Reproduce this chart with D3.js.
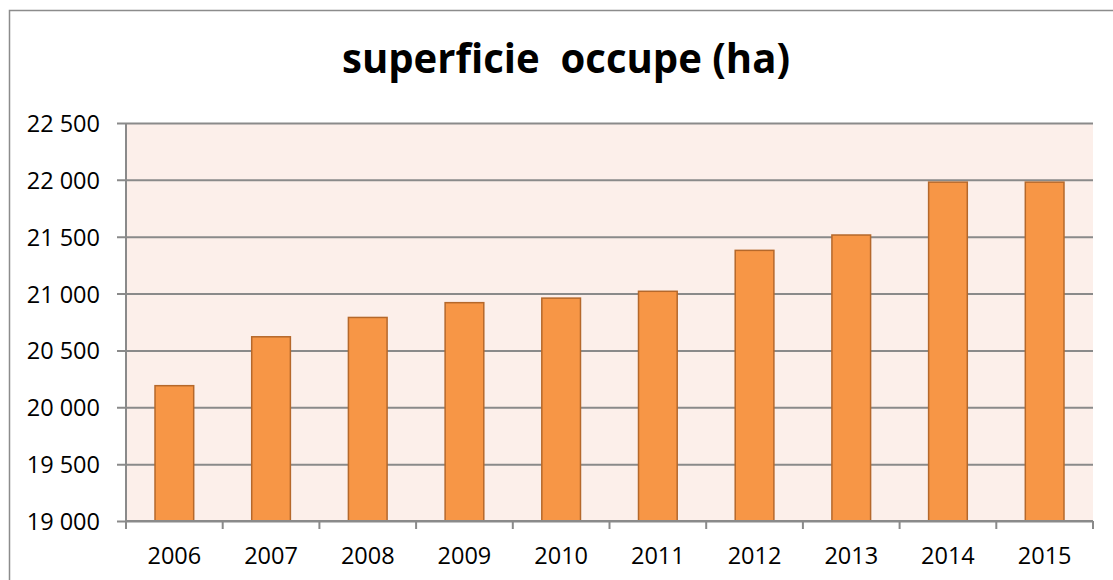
<!DOCTYPE html>
<html>
<head>
<meta charset="utf-8">
<script src="https://cdn.jsdelivr.net/npm/d3@7"></script>
<style>
  html, body { margin: 0; padding: 0; background: #fff; overflow: hidden; }
  svg { display: block; font-family: "Open Sans", "Liberation Sans", sans-serif; }
</style>
</head>
<body>
<svg id="chart"></svg>
<script>
/* ===============================
   Data
================================ */

const years = ["2006", "2007", "2008", "2009", "2010", "2011", "2012", "2013", "2014", "2015"];
const surface = [20190, 20620, 20790, 20920, 20960, 21020, 21380, 21515, 21980, 21980];
const yTicks = [19000, 19500, 20000, 20500, 21000, 21500, 22000, 22500];
const title = "superficie\u00a0 occupe (ha)";

/* ===============================
   Setup
================================ */

const width = 1113;
const height = 580;
const plot = { left: 126, right: 1093, top: 123, bottom: 521 };

const svg = d3.select("#chart")
  .attr("width", width)
  .attr("height", height);

// outer chart frame (cropped at right & bottom)
svg.append("rect")
  .attr("x", 9.5).attr("y", 10.5)
  .attr("width", width + 10).attr("height", height + 10)
  .attr("fill", "#fff")
  .attr("stroke", "#8c8c8c")
  .attr("stroke-width", 1.5);

const x = d3.scaleBand()
  .domain(years)
  .range([plot.left, plot.right])
  .paddingInner(0.6)
  .paddingOuter(0.3);

const y = d3.scaleLinear()
  .domain([19000, 22500])
  .range([plot.bottom, plot.top]);

const fmt = v => d3.format(",")(v).replace(",", " ");

/* ===============================
   Plot area
================================ */

svg.append("rect")
  .attr("x", plot.left).attr("y", plot.top)
  .attr("width", plot.right - plot.left)
  .attr("height", plot.bottom - plot.top)
  .attr("fill", "#fcefea");

// gridlines + y axis
const yAxis = svg.append("g")
  .attr("transform", `translate(${plot.left},0)`)
  .call(d3.axisLeft(y)
    .tickValues(yTicks)
    .tickFormat(fmt)
    .tickSize(-(plot.right - plot.left))
    .tickSizeOuter(0)
    .tickPadding(26));

yAxis.select(".domain").remove();
yAxis.selectAll(".tick line")
  .attr("x1", -9)
  .attr("stroke", "#8a8a8a")
  .attr("stroke-width", 2);
yAxis.selectAll(".tick text")
  .attr("fill", "#000")
  .attr("font-family", "'Open Sans', sans-serif")
  .attr("font-size", 23.5)
  .attr("dy", "0.36em");

// left axis line
svg.append("line")
  .attr("x1", plot.left).attr("x2", plot.left)
  .attr("y1", plot.top).attr("y2", plot.bottom + 8)
  .attr("stroke", "#8a8a8a")
  .attr("stroke-width", 2);

/* ===============================
   Bars
================================ */

svg.append("g")
  .selectAll("rect")
  .data(years)
  .join("rect")
  .attr("x", d => x(d))
  .attr("y", (d, i) => y(surface[i]))
  .attr("width", x.bandwidth())
  .attr("height", (d, i) => y(19000) - y(surface[i]))
  .attr("fill", "#f79646")
  .attr("stroke", "#b5682b")
  .attr("stroke-width", 1.5);

/* ===============================
   X axis
================================ */

const step = x.step();
const boundaries = d3.range(years.length + 1).map(i => plot.left + i * step);

svg.append("line")
  .attr("x1", plot.left).attr("x2", plot.right)
  .attr("y1", plot.bottom).attr("y2", plot.bottom)
  .attr("stroke", "#8a8a8a")
  .attr("stroke-width", 2);

svg.append("g")
  .selectAll("line")
  .data(boundaries)
  .join("line")
  .attr("x1", d => d).attr("x2", d => d)
  .attr("y1", plot.bottom).attr("y2", plot.bottom + 8)
  .attr("stroke", "#8a8a8a")
  .attr("stroke-width", 2);

svg.append("g")
  .selectAll("text")
  .data(years)
  .join("text")
  .attr("x", d => x(d) + x.bandwidth() / 2)
  .attr("y", 564)
  .attr("text-anchor", "middle")
  .attr("font-size", 23.5)
  .attr("fill", "#000")
  .text(d => d);

/* ===============================
   Title
================================ */

// Calibri-like: tall glyphs squeezed to the reference width (~448px)
svg.append("text")
  .attr("x", 342)
  .attr("y", 73)
  .attr("font-weight", "bold")
  .attr("font-size", 41)
  .attr("textLength", 448)
  .attr("lengthAdjust", "spacingAndGlyphs")
  .attr("fill", "#000")
  .text(title);
</script>
</body>
</html>
